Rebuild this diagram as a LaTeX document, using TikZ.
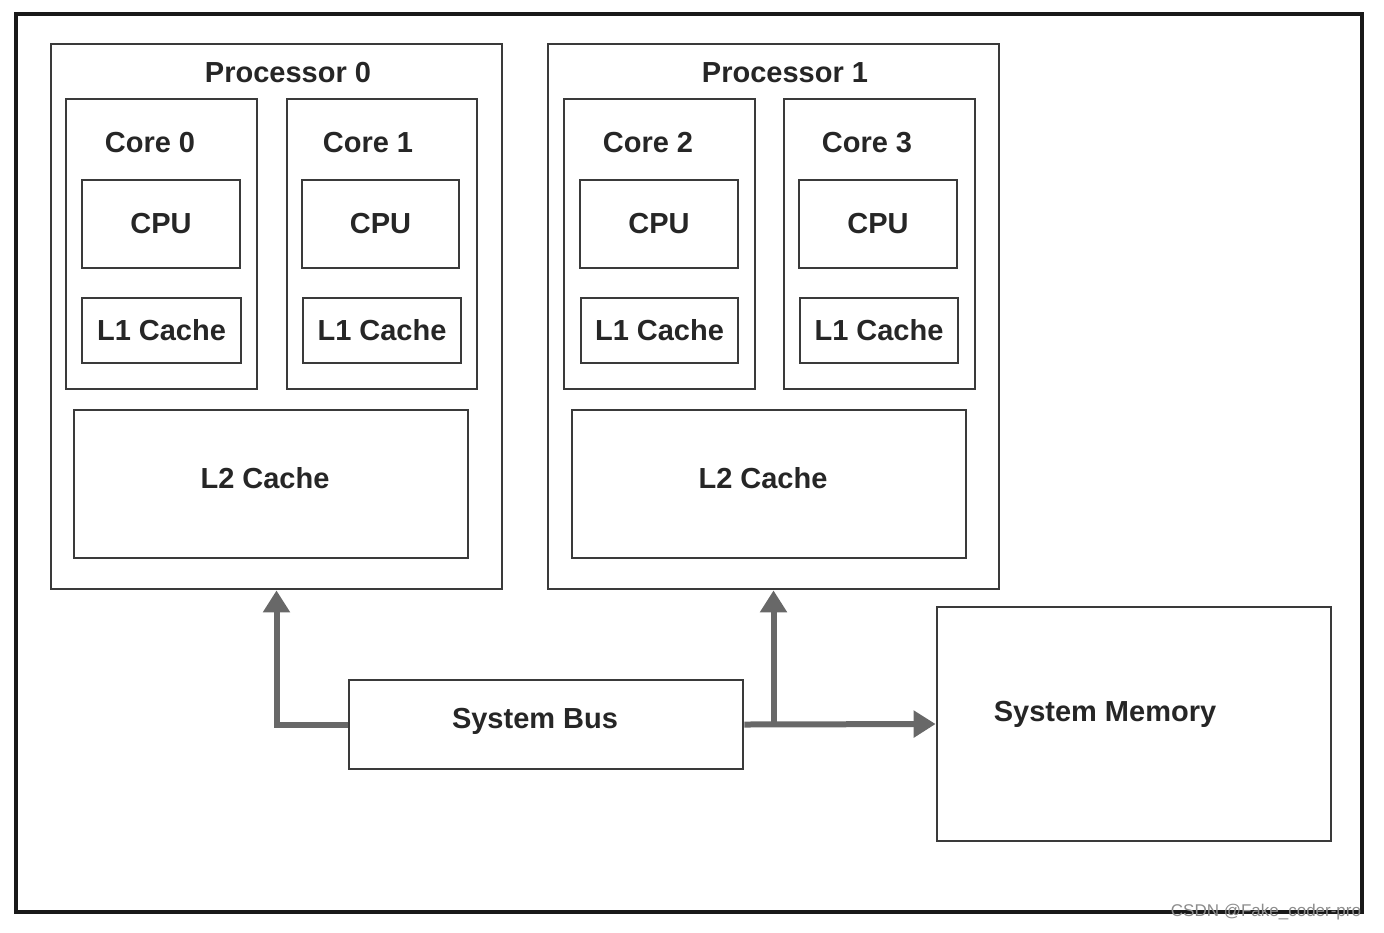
\documentclass[tikz,border=0pt]{standalone}
\usepackage{fontspec}
\setmainfont{Liberation Sans}
\usetikzlibrary{arrows.meta}
\definecolor{boxc}{HTML}{3A3A3A}
\definecolor{arrc}{HTML}{686868}
\begin{document}
\begin{tikzpicture}[x=0.5pt,y=-0.5pt,
  box/.style={draw=boxc, line width=1.4pt, inner sep=0pt, font=\fontsize{14.5}{16}\bfseries\selectfont, text=black!85},
  lbl/.style={inner sep=0pt, font=\fontsize{14.5}{16}\bfseries\selectfont, text=black!85},
  arr/.style={draw=arrc, line width=3pt, -{Triangle[length=11pt,width=13pt]}},
  ln/.style={draw=arrc, line width=3pt}]
\useasboundingbox (0,0) rectangle (1384,932);
\node[draw=black!90, line width=1.6pt, minimum width=673pt, minimum height=449pt, inner sep=0pt] (outer) at (689,463) {};
% processors
\node[box, minimum width=225.5pt, minimum height=272.5pt] (p0) at (276.5,316.5) {};
\node[box, minimum width=225.5pt, minimum height=272.5pt] (p1) at (773.5,316.5) {};
\node[lbl] (p0t) at (288,73) {Processor 0};
\node[lbl] (p1t) at (785,73) {Processor 1};
% cores
\node[box, minimum width=95.5pt, minimum height=145pt] (c0) at (161.5,244) {};
\node[box, minimum width=95pt, minimum height=145pt] (c1) at (382,244) {};
\node[box, minimum width=95.5pt, minimum height=145pt] (c2) at (659.5,244) {};
\node[box, minimum width=95.5pt, minimum height=145pt] (c3) at (879.5,244) {};
\node[lbl] (c0t) at (150,143) {Core 0};
\node[lbl] (c1t) at (368,143) {Core 1};
\node[lbl] (c2t) at (648,143) {Core 2};
\node[lbl] (c3t) at (867,143) {Core 3};
% CPUs
\node[box, minimum width=79pt, minimum height=44pt] (cpu0) at (161,224) {CPU};
\node[box, minimum width=78.5pt, minimum height=44pt] (cpu1) at (380.5,224) {CPU};
\node[box, minimum width=79pt, minimum height=44pt] (cpu2) at (659,224) {CPU};
\node[box, minimum width=79pt, minimum height=44pt] (cpu3) at (878,224) {CPU};
% L1
\node[box, minimum width=79.5pt, minimum height=32.5pt] (l10) at (161.5,330.5) {L1 Cache};
\node[box, minimum width=79pt, minimum height=32.5pt] (l11) at (382,330.5) {L1 Cache};
\node[box, minimum width=78.5pt, minimum height=32.5pt] (l12) at (659.5,330.5) {L1 Cache};
\node[box, minimum width=79pt, minimum height=32.5pt] (l13) at (879,330.5) {L1 Cache};
% L2
\node[box, minimum width=197pt, minimum height=74pt] (l20) at (271,484) {};
\node[box, minimum width=197pt, minimum height=74pt] (l21) at (769,484) {};
\node[lbl] (l20t) at (265,478) {L2 Cache};
\node[lbl] (l21t) at (763,478) {L2 Cache};
% bus and memory
\node[box, minimum width=197pt, minimum height=44.5pt] (bus) at (546,724.5) {};
\node[lbl] (bust) at (535,721) {System Bus};
\node[box, minimum width=197pt, minimum height=117pt] (mem) at (1134,724) {};
\node[lbl] (memt) at (1105,714) {System Memory};
% connectors
\draw[arr] (bus.west) -| (p0.south);
\draw[arr] (bus.east) -- (mem.west);
\coordinate (j) at (bus.east -| p1.south);
\draw[arr] (j) -- (p1.south);
% watermark
\node[inner sep=0pt, text=black!45, font=\fontsize{8.5}{9}\selectfont] (wm) at (1266,912) {CSDN @Fake\_coder-pro};
\end{tikzpicture}
\end{document}
